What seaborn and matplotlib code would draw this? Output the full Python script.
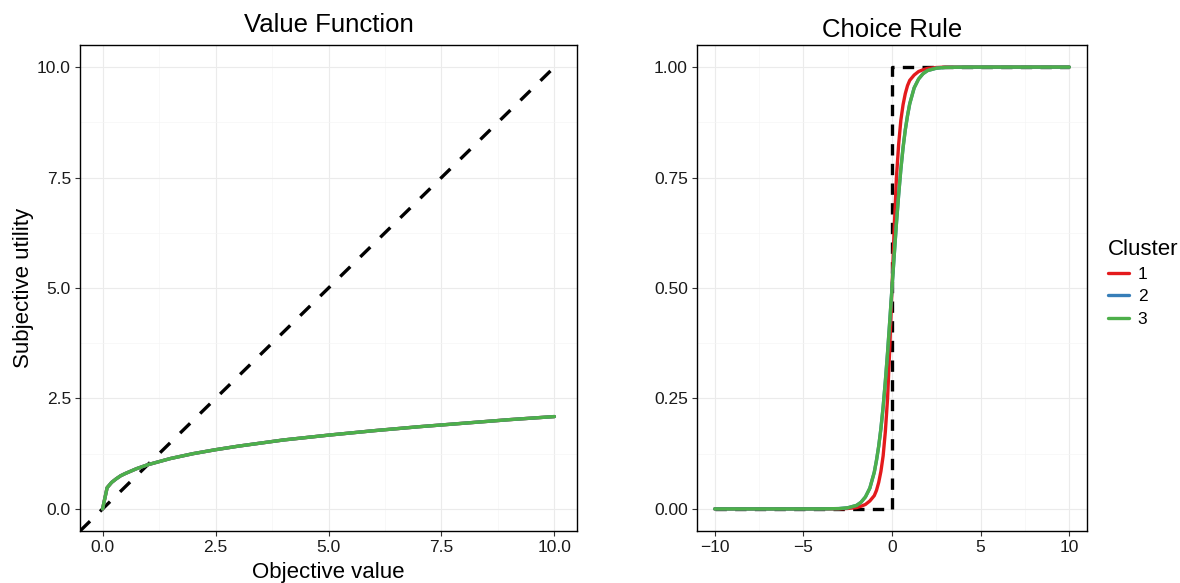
import matplotlib
matplotlib.use("Agg")
import matplotlib.pyplot as plt
import pandas as pd
import seaborn as sns
from matplotlib.lines import Line2D
from matplotlib.ticker import MultipleLocator, FormatStrFormatter, FuncFormatter

# ---- data -----------------------------------------------------------------
clusters = ["1", "2", "3"]
cluster_colors = ["#E41A1C", "#377EB8", "#4DAF4A"]

# value function (same for all clusters)
objective_value = [0, 0.1, 0.2, 0.3, 0.4, 0.5, 0.75, 1, 1.5, 2, 2.5, 3, 3.5, 4,
                   5, 6, 7, 8, 9, 10]
subjective_utility = [0, 0.48, 0.60, 0.68, 0.75, 0.80, 0.91, 1.00, 1.14, 1.25,
                      1.34, 1.42, 1.49, 1.56, 1.67, 1.77, 1.86, 1.94, 2.02, 2.09]

# choice rule
value_diff = [-10, -5, -4, -3, -2.5, -2, -1.75, -1.5, -1.25, -1, -0.875, -0.75,
              -0.625, -0.5, -0.375, -0.25, -0.125, 0, 0.125, 0.25, 0.375, 0.5,
              0.625, 0.75, 0.875, 1, 1.25, 1.5, 1.75, 2, 2.5, 3, 4, 5, 10]
p_choice_1 = [0, 0, 0, 0, 0.001, 0.003, 0.006, 0.01, 0.018, 0.03, 0.042, 0.06,
              0.085, 0.12, 0.175, 0.25, 0.365, 0.5, 0.635, 0.75, 0.825, 0.88,
              0.915, 0.94, 0.958, 0.97, 0.982, 0.99, 0.994, 0.997, 0.999, 1, 1,
              1, 1]
p_choice_2 = [0, 0, 0.0001, 0.0007, 0.0025, 0.008, 0.015, 0.027, 0.047, 0.083,
              0.11, 0.142, 0.182, 0.231, 0.289, 0.354, 0.426, 0.5, 0.574, 0.646,
              0.711, 0.769, 0.818, 0.858, 0.89, 0.917, 0.953, 0.973, 0.985,
              0.992, 0.9975, 0.9993, 0.9999, 1, 1]
p_choice_3 = [0, 0, 0.0001, 0.0007, 0.0025, 0.008, 0.015, 0.027, 0.047, 0.083,
              0.11, 0.142, 0.182, 0.231, 0.289, 0.354, 0.426, 0.5, 0.574, 0.646,
              0.711, 0.769, 0.818, 0.858, 0.89, 0.917, 0.953, 0.973, 0.985,
              0.992, 0.9975, 0.9993, 0.9999, 1, 1]

# reference lines: risk-neutral identity and deterministic step rule
identity_x = [-0.5, 10]
identity_y = [-0.5, 10]
step_x = [-10, 0, 0, 10]
step_y = [0, 0, 1, 1]

# ---- long-form tables -------------------------------------------------------
vf = pd.concat([pd.DataFrame({"x": objective_value, "y": subjective_utility,
                              "Cluster": c}) for c in clusters])
cr = pd.concat([pd.DataFrame({"x": value_diff, "y": p, "Cluster": c})
                for c, p in zip(clusters, [p_choice_1, p_choice_2, p_choice_3])])

# ---- style ------------------------------------------------------------------
sns.set_theme(style="white")
plt.rcParams["font.family"] = ["Liberation Sans", "DejaVu Sans"]
plt.rcParams["text.color"] = "black"
plt.rcParams["axes.labelcolor"] = "black"

TICK_FS = 12.5
LABEL_FS = 16
TITLE_FS = 18.5
LW = 2.4

fig = plt.figure(figsize=(11.8, 5.83), dpi=100)
ax1 = fig.add_axes([80 / 1180, 1 - 531 / 583, 497 / 1180, 486 / 583])
ax2 = fig.add_axes([697 / 1180, 1 - 531 / 583, 390 / 1180, 486 / 583])
palette = dict(zip(clusters, cluster_colors))


def style_axes(ax, xmaj, ymaj, fmt_y):
    ax.set_facecolor("white")
    ax.xaxis.set_major_locator(MultipleLocator(xmaj))
    ax.xaxis.set_minor_locator(MultipleLocator(xmaj / 2))
    ax.yaxis.set_major_locator(MultipleLocator(ymaj))
    ax.yaxis.set_minor_locator(MultipleLocator(ymaj / 2))
    ax.grid(which="major", color="#EBEBEB", linewidth=0.8)
    ax.grid(which="minor", color="#F5F5F5", linewidth=0.5)
    ax.set_axisbelow(True)
    for s in ax.spines.values():
        s.set_color("black")
        s.set_linewidth(1.0)
    ax.tick_params(which="major", direction="out", length=3.5, width=0.8,
                   color="#333333", labelsize=TICK_FS, labelcolor="#1a1a1a",
                   bottom=True, left=True, pad=3)
    ax.tick_params(which="minor", length=0)
    ax.yaxis.set_major_formatter(FormatStrFormatter(fmt_y))


def dashed_last(ax, pattern):
    line = ax.lines[-1]
    line.set_dashes(pattern)
    line.set_dash_capstyle("butt")


# ---- left: value function ---------------------------------------------------
sns.lineplot(x=identity_x, y=identity_y, ax=ax1, color="black", linewidth=LW,
             sort=False, estimator=None)
dashed_last(ax1, (4.2, 4.2))
sns.lineplot(data=vf, x="x", y="y", hue="Cluster", palette=palette, ax=ax1,
             linewidth=LW, legend=False, estimator=None)
ax1.set_xlim(-0.5, 10.5)
ax1.set_ylim(-0.5, 10.5)
style_axes(ax1, 2.5, 2.5, "%.1f")
ax1.xaxis.set_major_formatter(FormatStrFormatter("%.1f"))
ax1.set_xlabel("Objective value", fontsize=LABEL_FS, labelpad=5)
ax1.set_ylabel("Subjective utility", fontsize=LABEL_FS, labelpad=2)
ax1.set_title("Value Function", fontsize=TITLE_FS, pad=9)

# ---- right: choice rule -----------------------------------------------------
sns.lineplot(x=step_x, y=step_y, ax=ax2, color="black", linewidth=LW,
             sort=False, estimator=None)
dashed_last(ax2, (3.4, 2.5))
sns.lineplot(data=cr, x="x", y="y", hue="Cluster", palette=palette, ax=ax2,
             linewidth=LW, legend=False, estimator=None)
ax2.set_xlim(-11, 11)
ax2.set_ylim(-0.05, 1.05)
style_axes(ax2, 5, 0.25, "%.2f")
ax2.xaxis.set_major_formatter(
    FuncFormatter(lambda v, _: f"{v:.0f}".replace("-", "\u2212")))
ax2.set_xlabel("")
ax2.set_ylabel("")
ax2.set_title("Choice Rule", fontsize=TITLE_FS, pad=6)

# ---- legend -----------------------------------------------------------------
handles = [Line2D([0], [0], color=c, linewidth=LW) for c in cluster_colors]
leg = fig.legend(handles, clusters, title="Cluster", loc="center left",
                 bbox_to_anchor=(1096 / 1180, 0.515), frameon=False,
                 fontsize=TICK_FS, title_fontsize=LABEL_FS, handlelength=1.2,
                 handletextpad=0.5, labelspacing=0.42, borderpad=0.2)
leg._legend_box.align = "left"

fig.savefig("out.png", dpi=100)
